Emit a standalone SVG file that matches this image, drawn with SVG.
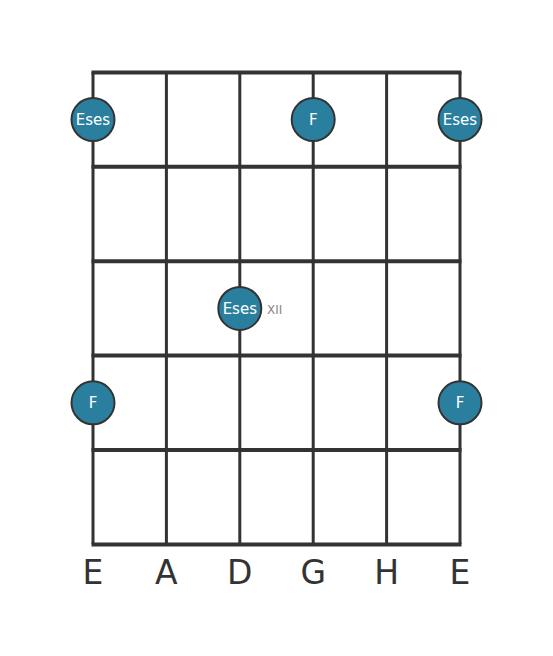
<svg xmlns="http://www.w3.org/2000/svg" width="553" height="656" viewBox="0 0 553 656">
<style>
.fret{stroke:#333;stroke-width:4;}
.str{stroke:#333;stroke-width:3;}
.dot{fill:#2a7f9e;stroke:#333;stroke-width:2;}
.nt{font-family:"DejaVu Sans",sans-serif;font-size:15px;fill:#ffffff;text-anchor:middle;}
.lbl{font-family:"DejaVu Sans",sans-serif;font-size:33px;fill:#333;text-anchor:middle;}
.pos{font-family:"DejaVu Sans",sans-serif;font-size:12px;fill:#888;}
</style>
<rect width="553" height="656" fill="#fff"/>
<g id="connectors">
<line class="str" x1="93" y1="72" x2="93" y2="544"/>
<line class="str" x1="166.4" y1="72" x2="166.4" y2="544"/>
<line class="str" x1="239.8" y1="72" x2="239.8" y2="544"/>
<line class="str" x1="313.2" y1="72" x2="313.2" y2="544"/>
<line class="str" x1="386.6" y1="72" x2="386.6" y2="544"/>
<line class="str" x1="460" y1="72" x2="460" y2="544"/>
<line class="fret" x1="91.5" y1="72.4" x2="461.5" y2="72.4"/>
<line class="fret" x1="91.5" y1="166.8" x2="461.5" y2="166.8"/>
<line class="fret" x1="91.5" y1="261.2" x2="461.5" y2="261.2"/>
<line class="fret" x1="91.5" y1="355.6" x2="461.5" y2="355.6"/>
<line class="fret" x1="91.5" y1="450" x2="461.5" y2="450"/>
<line class="fret" x1="91.5" y1="544.4" x2="461.5" y2="544.4"/>
</g>
<g id="n1"><circle class="dot" cx="93" cy="119.6" r="21.5"/><text class="nt" x="93" y="125">Eses</text></g>
<g id="n2"><circle class="dot" cx="313.2" cy="119.6" r="21.5"/><text class="nt" x="313.2" y="125">F</text></g>
<g id="n3"><circle class="dot" cx="460" cy="119.6" r="21.5"/><text class="nt" x="460" y="125">Eses</text></g>
<g id="n4"><circle class="dot" cx="239.8" cy="308.4" r="21.5"/><text class="nt" x="239.8" y="313.8">Eses</text><text class="pos" x="267" y="313.5">XII</text></g>
<g id="n5"><circle class="dot" cx="93" cy="402.8" r="21.5"/><text class="nt" x="93" y="408.2">F</text></g>
<g id="n6"><circle class="dot" cx="460" cy="402.8" r="21.5"/><text class="nt" x="460" y="408.2">F</text></g>
<g id="labels">
<text class="lbl" x="93" y="584">E</text>
<text class="lbl" x="166.4" y="584">A</text>
<text class="lbl" x="239.8" y="584">D</text>
<text class="lbl" x="313.2" y="584">G</text>
<text class="lbl" x="386.6" y="584">H</text>
<text class="lbl" x="460" y="584">E</text>
</g>
</svg>
